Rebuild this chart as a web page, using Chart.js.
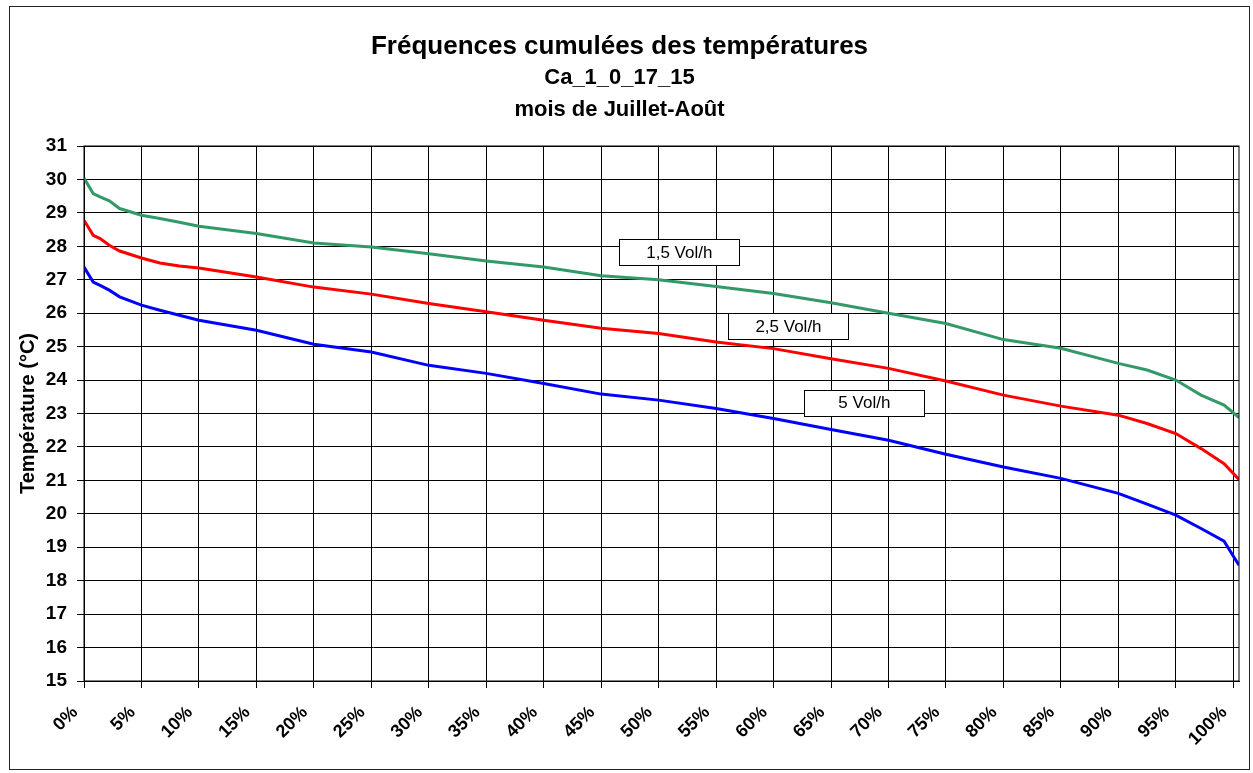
<!DOCTYPE html>
<html lang="fr">
<head>
<meta charset="utf-8">
<title>Fréquences cumulées des températures</title>
<script src="https://cdn.jsdelivr.net/npm/chart.js@4/dist/chart.umd.min.js"></script>
<style>
  html, body { margin: 0; padding: 0; background: #fff; }
  #wrap { position: relative; width: 1253px; height: 773px; }
  #frame {
    position: absolute; left: 9px; top: 6px; width: 1239px; height: 762px;
    border: 1px solid #222; pointer-events: none;
  }
</style>
</head>
<body>
<div id="wrap">
  <canvas id="freq-chart" width="1253" height="773"></canvas>
  <div id="frame"></div>
</div>
<script>
// Cumulative frequency (%) on x, temperature (°C) on y
const freqPct = [0, 0.8, 1.4, 2.2, 3.1, 5, 6.6, 8.3, 10, 15, 20, 25, 30, 35, 40, 45, 50, 55, 60, 65,
  70, 75, 80, 85, 90, 92.5, 95, 97.2, 99.2, 100.5];

const temp15 = [30.04, 29.58, 29.48, 29.36, 29.13, 28.93, 28.83, 28.72, 28.6, 28.38, 28.1, 27.98, 27.78,
  27.56, 27.38, 27.12, 27.0, 26.8, 26.59, 26.31, 26.0, 25.69, 25.21, 24.95, 24.5, 24.3, 24.0, 23.55, 23.25, 22.88];
const temp25 = [28.78, 28.33, 28.23, 28.03, 27.86, 27.65, 27.5, 27.41, 27.35, 27.08, 26.78, 26.57, 26.29,
  26.04, 25.79, 25.55, 25.39, 25.14, 24.94, 24.64, 24.35, 23.97, 23.55, 23.22, 22.95, 22.7, 22.4, 21.95, 21.5, 21.03];
const temp5 = [27.38, 26.93, 26.83, 26.69, 26.49, 26.24, 26.09, 25.94, 25.79, 25.49, 25.07, 24.84, 24.44,
  24.2, 23.9, 23.58, 23.4, 23.15, 22.85, 22.52, 22.2, 21.78, 21.4, 21.06, 20.61, 20.29, 19.96, 19.56, 19.18, 18.46];

const seriesNames = ['1,5 Vol/h', '2,5 Vol/h', '5 Vol/h'];
const seriesColors = ['#339966', '#ff0000', '#0000ff'];

// where the series name boxes sit, in data units (% , °C)
const labelX = [51.8, 61.3, 67.9];
const labelY = [27.82, 25.61, 23.32];

Chart.defaults.font.family = "'Liberation Sans', Arial, sans-serif";
Chart.defaults.color = '#000';

const toPoints = (ys) => freqPct.map((x, i) => ({ x, y: ys[i] }));

// Boxed series names + plot area border
const seriesLabels = {
  id: 'seriesLabels',
  afterDatasetsDraw(chart) {
    const { ctx, chartArea, scales } = chart;
    ctx.save();
    ctx.strokeStyle = '#000';
    ctx.lineWidth = 1;
    ctx.strokeRect(chartArea.left, chartArea.top, chartArea.right - chartArea.left, chartArea.bottom - chartArea.top);

    ctx.font = "17px 'Liberation Sans', Arial, sans-serif";
    ctx.textAlign = 'center';
    ctx.textBaseline = 'middle';
    seriesNames.forEach((name, i) => {
      const cx = scales.x.getPixelForValue(labelX[i]);
      const cy = scales.y.getPixelForValue(labelY[i]);
      const w = 120, h = 26;
      ctx.fillStyle = '#fff';
      ctx.fillRect(Math.round(cx - w / 2) + 0.5, Math.round(cy - h / 2) + 0.5, w, h);
      ctx.strokeRect(Math.round(cx - w / 2) + 0.5, Math.round(cy - h / 2) + 0.5, w, h);
      ctx.fillStyle = '#000';
      ctx.fillText(name, cx, cy + 1);
    });
    ctx.restore();
  },
};

new Chart(document.getElementById('freq-chart'), {
  type: 'line',
  data: {
    datasets: [temp15, temp25, temp5].map((ys, i) => ({
      label: seriesNames[i],
      data: toPoints(ys),
      borderColor: seriesColors[i],
      backgroundColor: seriesColors[i],
      borderWidth: 3,
      pointRadius: 0,
      tension: 0,
    })),
  },
  options: {
    responsive: false,
    animation: false,
    layout: { padding: { left: 0, right: 14, top: 0, bottom: 0 } },
    plugins: {
      legend: { display: false },
      tooltip: { enabled: false },
      title: {
        display: true,
        text: 'Fréquences cumulées des températures',
        font: { size: 26, weight: 'bold' },
        lineHeight: 1.2,
        padding: { top: 31, bottom: 0 },
      },
      subtitle: {
        display: true,
        text: ['Ca_1_0_17_15', 'mois de Juillet-Août'],
        font: { size: 22, weight: 'bold', lineHeight: 1.45 },
        color: '#000',
        padding: { top: 0, bottom: 20 },
      },
    },
    scales: {
      x: {
        type: 'linear',
        min: 0,
        max: 100.5,
        // fixed axis height; side padding comes from layout.padding only
        afterFit: (s) => { s.height = 92; s.paddingLeft = 0; s.paddingRight = 0; },
        border: { color: '#000', width: 1 },
        grid: { color: '#000', lineWidth: 1, tickLength: 7 },
        ticks: {
          stepSize: 5,
          includeBounds: false,
          minRotation: 45,
          maxRotation: 45,
          padding: 14,
          labelOffset: -9,
          font: { size: 18, weight: 'bold' },
          callback: (v) => v + '%',
        },
      },
      y: {
        min: 15,
        max: 31,
        afterFit: (s) => { s.width = 84; },
        border: { color: '#000', width: 1 },
        grid: { color: '#000', lineWidth: 1, tickLength: 7 },
        ticks: {
          stepSize: 1,
          padding: 10,
          font: { size: 19, weight: 'bold' },
        },
        title: {
          display: true,
          text: 'Température (°C)',
          font: { size: 20, weight: 'bold' },
          padding: { top: 16, bottom: 0 },
        },
      },
    },
  },
  plugins: [seriesLabels],
});
</script>
</body>
</html>
